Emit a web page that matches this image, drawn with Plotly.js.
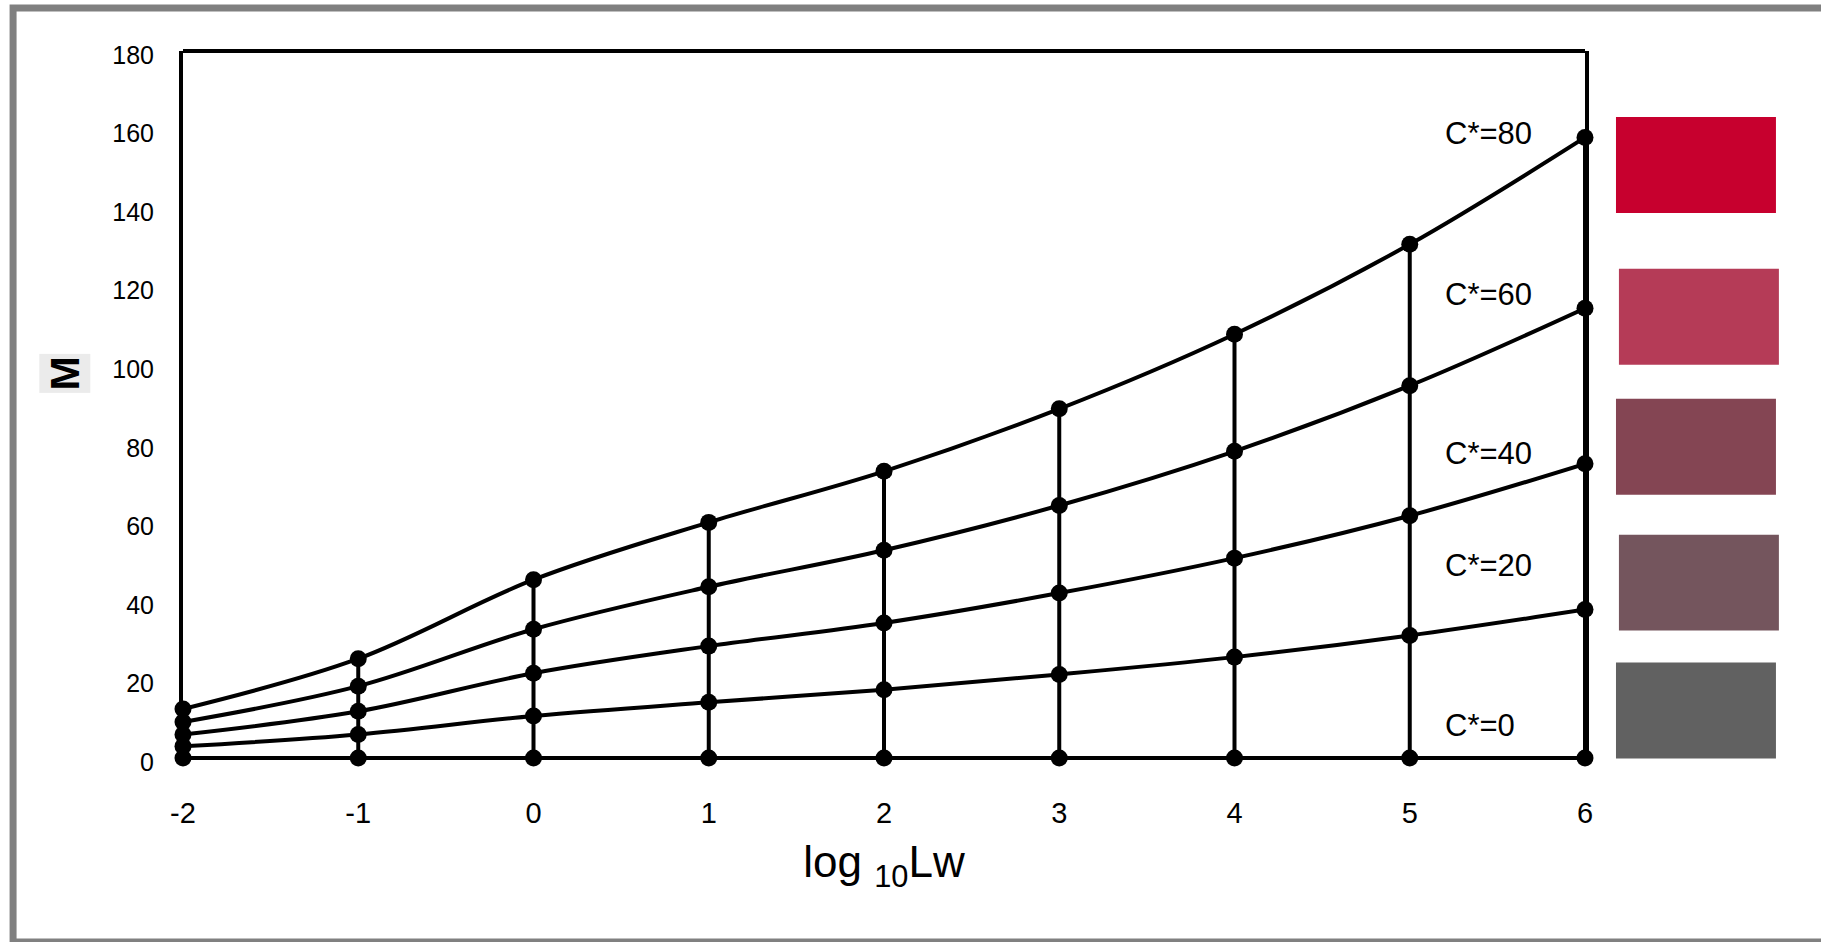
<!DOCTYPE html>
<html>
<head>
<meta charset="utf-8">
<script src="https://cdn.plot.ly/plotly-3.0.1.min.js"></script>
<style>
  html, body { margin: 0; padding: 0; background: #ffffff; }
  #chart { width: 1821px; height: 942px; }
</style>
</head>
<body>
<div id="chart"></div>
<script>
// log10 of white luminance (cd/m^2)
const logLw = [-2, -1, 0, 1, 2, 3, 4, 5, 6];

// colourfulness M along lines of constant chroma C*
const chromaLevels = [80, 60, 40, 20, 0];
const M_C80 = [13.5, 26.3, 46.4, 61.0, 74.0, 89.9, 108.9, 131.8, 159.0];
const M_C60 = [10.2, 19.3, 33.8, 44.6, 53.9, 65.3, 79.1, 95.8, 115.5];
const M_C40 = [7.0, 12.9, 22.6, 29.5, 35.4, 43.0, 51.9, 62.7, 75.9];
const M_C20 = [4.0, 7.0, 11.7, 15.2, 18.4, 22.3, 26.7, 32.2, 38.8];
const M_C0  = [1, 1, 1, 1, 1, 1, 1, 1, 1];

// sample colour patch for each chroma level
const swatchColors = ['#c7002e', '#b53b57', '#844553', '#74555d', '#616161'];

const yTicks = [0, 20, 40, 60, 80, 100, 120, 140, 160, 180];

const series = [M_C80, M_C60, M_C40, M_C20, M_C0];
const FONT = 'Liberation Sans, Arial, Helvetica, sans-serif';
const INK = '#000000';
const LW = 4;

// vertical lines of constant luminance joining C*=0 to C*=80
const vx = [], vy = [];
logLw.forEach((x, i) => {
  vx.push(x, x, null);
  vy.push(M_C0[i], M_C80[i], null);
});

const traces = [{
  type: 'scatter', mode: 'lines', x: vx, y: vy,
  line: { color: INK, width: LW },
  hoverinfo: 'skip', showlegend: false, cliponaxis: false
}];

series.forEach((vals, k) => {
  traces.push({
    type: 'scatter', mode: 'lines+markers',
    name: 'C*=' + chromaLevels[k],
    x: logLw, y: vals,
    line: { color: INK, width: LW, shape: 'spline', smoothing: 1 },
    marker: { color: INK, size: 17 },
    showlegend: false, cliponaxis: false
  });
});

// chroma labels placed just left of the right-hand frame
const labelY = [160, 119, 78.5, 50, 9.2];
const annotations = chromaLevels.map((c, k) => ({
  x: 5.19, y: labelY[k], xref: 'x', yref: 'y',
  xanchor: 'left', yanchor: 'middle',
  text: 'C*=' + c, showarrow: false,
  font: { family: FONT, size: 31, color: INK }
}));

// rotated axis letter on a light grey tile
annotations.push({
  x: -0.0841, y: 0.5467, xref: 'paper', yref: 'paper',
  xanchor: 'center', yanchor: 'middle',
  text: '<b>M</b>', textangle: -90, showarrow: false,
  bgcolor: '#ebebeb', borderpad: 2,
  font: { family: FONT, size: 41, color: INK }
});

// colour patches to the right of the plot
const swatchBoxes = [
  [1.0221, 1.1362, 0.7723, 0.9073],
  [1.0242, 1.1383, 0.5587, 0.6936],
  [1.0221, 1.1362, 0.3760, 0.5109],
  [1.0242, 1.1383, 0.1848, 0.3197],
  [1.0221, 1.1362, 0.0049, 0.1398]
];
const shapes = swatchBoxes.map((b, k) => ({
  type: 'rect', xref: 'paper', yref: 'paper',
  x0: b[0], x1: b[1], y0: b[2], y1: b[3],
  fillcolor: swatchColors[k], line: { width: 0 }
}));

// top edge of the plot frame
shapes.push({
  type: 'line', xref: 'paper', yref: 'paper',
  x0: 0, x1: 1, y0: 1, y1: 1,
  line: { color: INK, width: LW }
});

// grey border round the whole figure
shapes.push({
  type: 'rect', xref: 'paper', yref: 'paper',
  x0: -0.1212, x1: 1.18, y0: -0.253, y1: 1.0604,
  line: { color: '#808080', width: 7 }, fillcolor: 'rgba(0,0,0,0)'
});

const layout = {
  width: 1821, height: 942,
  margin: { l: 182.5, r: 236, t: 51, b: 179.5, pad: 0 },
  paper_bgcolor: '#ffffff', plot_bgcolor: '#ffffff',
  font: { family: FONT, color: INK },
  showlegend: false,
  hovermode: false,
  xaxis: {
    range: [-2, 6], tickvals: logLw, ticktext: logLw.map(String),
    showgrid: false, zeroline: false, showline: false, ticks: '',
    tickfont: { family: FONT, size: 29, color: INK },
    ticklabelstandoff: 31,
    title: { text: 'log <sub>10</sub>Lw', font: { family: FONT, size: 44, color: INK }, standoff: 18 }
  },
  yaxis: {
    range: [0, 181], tickvals: yTicks, ticktext: yTicks.map(String),
    showgrid: false, zeroline: false,
    showline: true, mirror: true, linecolor: INK, linewidth: LW,
    ticks: '',
    tickfont: { family: FONT, size: 25, color: INK },
    ticklabelstandoff: 20
  },
  annotations: annotations,
  shapes: shapes
};

Plotly.newPlot('chart', traces, layout, { displayModeBar: false, staticPlot: true });
</script>
</body>
</html>
